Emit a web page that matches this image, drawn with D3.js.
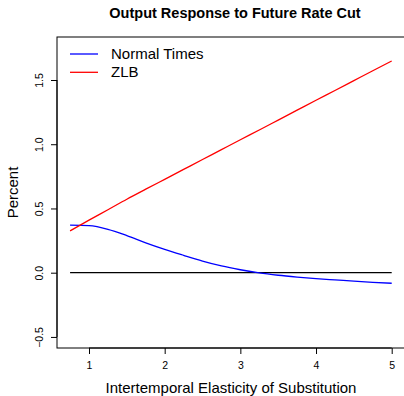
<!DOCTYPE html>
<html>
<head>
<meta charset="utf-8">
<script src="https://cdn.jsdelivr.net/npm/d3@7"></script>
<style>
  body { margin: 0; background: #fff; }
  text { font-family: "Liberation Sans", Arial, sans-serif; }
</style>
</head>
<body>
<div id="chart"></div>
<script>
// data
const ies = [0.75, 1.0, 1.25, 1.5, 1.75, 2.0, 2.25, 2.5, 2.75, 3.0, 3.25, 3.5, 3.75, 4.0, 4.25, 4.5, 4.75, 5.0];
const normalTimes = [0.37, 0.366, 0.338, 0.289, 0.232, 0.181, 0.135, 0.091, 0.053, 0.023, -0.002, -0.02, -0.034, -0.046, -0.056, -0.066, -0.075, -0.082];
const zlb = [0.326, 0.409, 0.49, 0.572, 0.65, 0.727, 0.804, 0.881, 0.958, 1.035, 1.111, 1.188, 1.265, 1.342, 1.418, 1.495, 1.572, 1.648];
const xTicks = [1, 2, 3, 4, 5];
const yTicks = [-0.5, 0, 0.5, 1.0, 1.5];
const legendLabels = ["Normal Times", "ZLB"];
const colors = ["#0000ff", "#ff0000"];

const width = 404, height = 396;
const box = {left: 57, right: 405, top: 37, bottom: 348};

const svg = d3.select("#chart").append("svg")
    .attr("width", width)
    .attr("height", height);

// scales (pixel anchors measured from the tick marks)
const x = d3.scaleLinear().domain([1, 5]).range([89, 391.7]);
const y = d3.scaleLinear().domain([0, 1.5]).range([272.7, 80]);

// plot box
svg.append("rect")
    .attr("x", box.left).attr("y", box.top)
    .attr("width", box.right - box.left).attr("height", box.bottom - box.top)
    .attr("fill", "none").attr("stroke", "#000").attr("stroke-width", 1);

// x axis
const xAxis = svg.append("g")
    .attr("transform", `translate(0,${box.bottom})`)
    .call(d3.axisBottom(x).tickValues(xTicks).tickSize(6).tickPadding(8).tickFormat(d3.format("d")));
xAxis.select(".domain").attr("d", `M${x(1)},0H${x(5)}`);
xAxis.selectAll("text").style("font-size", "10.5px").attr("fill", "#000");

// y axis, labels rotated like R
const yAxis = svg.append("g")
    .attr("transform", `translate(${box.left},0)`)
    .call(d3.axisLeft(y).tickValues(yTicks).tickSize(6).tickFormat(d => d < 0 ? "\u22120.5" : d3.format(".1f")(d)));
yAxis.select(".domain").attr("d", `M0,${y(-0.5)}V${y(1.5)}`);
yAxis.selectAll(".tick text")
    .attr("x", 0).attr("dy", 0)
    .attr("transform", "translate(-14,0) rotate(-90)")
    .attr("text-anchor", "middle")
    .style("font-size", "10.5px").attr("fill", "#000");

// zero line
svg.append("line")
    .attr("x1", x(0.75)).attr("x2", x(5))
    .attr("y1", y(0)).attr("y2", y(0))
    .attr("stroke", "#000").attr("stroke-width", 1.2);

// curves
const line = d3.line()
    .x((d, i) => x(ies[i]))
    .y(d => y(d))
    .curve(d3.curveMonotoneX);

[normalTimes, zlb].forEach((series, k) => {
    svg.append("path")
        .attr("d", line(series))
        .attr("fill", "none")
        .attr("stroke", colors[k])
        .attr("stroke-width", 1.3);
});

// title and axis labels
svg.append("text")
    .attr("x", (box.left + box.right) / 2 + 4).attr("y", 18)
    .attr("text-anchor", "middle")
    .style("font-size", "14.5px").style("font-weight", "bold")
    .text("Output Response to Future Rate Cut");

svg.append("text")
    .attr("x", (box.left + box.right) / 2).attr("y", 393)
    .attr("text-anchor", "middle")
    .style("font-size", "15px")
    .text("Intertemporal Elasticity of Substitution");

svg.append("text")
    .attr("transform", `translate(18,${(box.top + box.bottom) / 2}) rotate(-90)`)
    .attr("text-anchor", "middle")
    .style("font-size", "15px")
    .text("Percent");

// legend
const legend = svg.append("g");
legendLabels.forEach((lab, i) => {
    const ly = 54 + i * 18.3;
    legend.append("line")
        .attr("x1", 70).attr("x2", 98)
        .attr("y1", ly).attr("y2", ly)
        .attr("stroke", colors[i]).attr("stroke-width", 1.3);
    legend.append("text")
        .attr("x", 111).attr("y", ly + 5)
        .style("font-size", "15px")
        .text(lab);
});
</script>
</body>
</html>
